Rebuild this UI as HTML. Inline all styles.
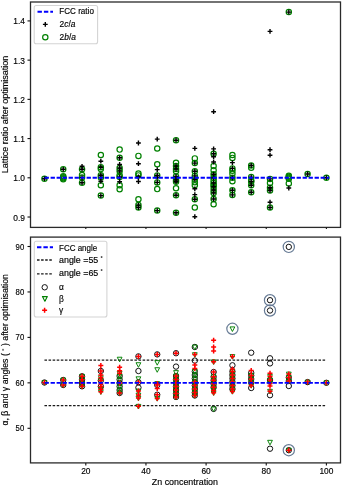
<!DOCTYPE html>
<html><head><meta charset="utf-8"><style>
html,body{margin:0;padding:0;background:#fff;width:342px;height:486px;overflow:hidden}
svg{display:block;font-family:"Liberation Sans",sans-serif;fill:#000}
#w{will-change:transform;width:342px;height:486px;background:#fff}
text{fill:#000;stroke:#000;stroke-width:0.15px}
</style></head><body><div id="w">
<svg width="342" height="486" viewBox="0 0 342 486"><circle cx="44.45" cy="178.70" r="2.65" fill="none" stroke="#008000" stroke-width="1.2"/>
<circle cx="63.24" cy="169.30" r="2.65" fill="none" stroke="#008000" stroke-width="1.2"/>
<circle cx="63.24" cy="176.30" r="2.65" fill="none" stroke="#008000" stroke-width="1.2"/>
<circle cx="63.24" cy="177.30" r="2.65" fill="none" stroke="#008000" stroke-width="1.2"/>
<circle cx="63.24" cy="178.30" r="2.65" fill="none" stroke="#008000" stroke-width="1.2"/>
<circle cx="63.24" cy="179.30" r="2.65" fill="none" stroke="#008000" stroke-width="1.2"/>
<circle cx="82.04" cy="169.20" r="2.65" fill="none" stroke="#008000" stroke-width="1.2"/>
<circle cx="82.04" cy="175.00" r="2.65" fill="none" stroke="#008000" stroke-width="1.2"/>
<circle cx="82.04" cy="177.60" r="2.65" fill="none" stroke="#008000" stroke-width="1.2"/>
<circle cx="82.04" cy="182.70" r="2.65" fill="none" stroke="#008000" stroke-width="1.2"/>
<circle cx="100.84" cy="155.00" r="2.65" fill="none" stroke="#008000" stroke-width="1.2"/>
<circle cx="100.84" cy="167.20" r="2.65" fill="none" stroke="#008000" stroke-width="1.2"/>
<circle cx="100.84" cy="169.10" r="2.65" fill="none" stroke="#008000" stroke-width="1.2"/>
<circle cx="100.84" cy="175.20" r="2.65" fill="none" stroke="#008000" stroke-width="1.2"/>
<circle cx="100.84" cy="177.50" r="2.65" fill="none" stroke="#008000" stroke-width="1.2"/>
<circle cx="100.84" cy="185.30" r="2.65" fill="none" stroke="#008000" stroke-width="1.2"/>
<circle cx="100.84" cy="195.60" r="2.65" fill="none" stroke="#008000" stroke-width="1.2"/>
<circle cx="119.63" cy="149.60" r="2.65" fill="none" stroke="#008000" stroke-width="1.2"/>
<circle cx="119.63" cy="157.80" r="2.65" fill="none" stroke="#008000" stroke-width="1.2"/>
<circle cx="119.63" cy="168.00" r="2.65" fill="none" stroke="#008000" stroke-width="1.2"/>
<circle cx="119.63" cy="171.10" r="2.65" fill="none" stroke="#008000" stroke-width="1.2"/>
<circle cx="119.63" cy="175.20" r="2.65" fill="none" stroke="#008000" stroke-width="1.2"/>
<circle cx="119.63" cy="177.00" r="2.65" fill="none" stroke="#008000" stroke-width="1.2"/>
<circle cx="119.63" cy="185.20" r="2.65" fill="none" stroke="#008000" stroke-width="1.2"/>
<circle cx="119.63" cy="189.30" r="2.65" fill="none" stroke="#008000" stroke-width="1.2"/>
<circle cx="138.43" cy="155.90" r="2.65" fill="none" stroke="#008000" stroke-width="1.2"/>
<circle cx="138.43" cy="173.50" r="2.65" fill="none" stroke="#008000" stroke-width="1.2"/>
<circle cx="138.43" cy="175.40" r="2.65" fill="none" stroke="#008000" stroke-width="1.2"/>
<circle cx="138.43" cy="199.30" r="2.65" fill="none" stroke="#008000" stroke-width="1.2"/>
<circle cx="138.43" cy="205.10" r="2.65" fill="none" stroke="#008000" stroke-width="1.2"/>
<circle cx="138.43" cy="207.50" r="2.65" fill="none" stroke="#008000" stroke-width="1.2"/>
<circle cx="157.23" cy="148.50" r="2.65" fill="none" stroke="#008000" stroke-width="1.2"/>
<circle cx="157.23" cy="164.30" r="2.65" fill="none" stroke="#008000" stroke-width="1.2"/>
<circle cx="157.23" cy="175.40" r="2.65" fill="none" stroke="#008000" stroke-width="1.2"/>
<circle cx="157.23" cy="182.40" r="2.65" fill="none" stroke="#008000" stroke-width="1.2"/>
<circle cx="157.23" cy="189.10" r="2.65" fill="none" stroke="#008000" stroke-width="1.2"/>
<circle cx="157.23" cy="210.60" r="2.65" fill="none" stroke="#008000" stroke-width="1.2"/>
<circle cx="176.03" cy="140.20" r="2.65" fill="none" stroke="#008000" stroke-width="1.2"/>
<circle cx="176.03" cy="162.70" r="2.65" fill="none" stroke="#008000" stroke-width="1.2"/>
<circle cx="176.03" cy="166.00" r="2.65" fill="none" stroke="#008000" stroke-width="1.2"/>
<circle cx="176.03" cy="169.00" r="2.65" fill="none" stroke="#008000" stroke-width="1.2"/>
<circle cx="176.03" cy="171.30" r="2.65" fill="none" stroke="#008000" stroke-width="1.2"/>
<circle cx="176.03" cy="176.40" r="2.65" fill="none" stroke="#008000" stroke-width="1.2"/>
<circle cx="176.03" cy="180.00" r="2.65" fill="none" stroke="#008000" stroke-width="1.2"/>
<circle cx="176.03" cy="181.70" r="2.65" fill="none" stroke="#008000" stroke-width="1.2"/>
<circle cx="176.03" cy="188.20" r="2.65" fill="none" stroke="#008000" stroke-width="1.2"/>
<circle cx="176.03" cy="195.20" r="2.65" fill="none" stroke="#008000" stroke-width="1.2"/>
<circle cx="176.03" cy="212.80" r="2.65" fill="none" stroke="#008000" stroke-width="1.2"/>
<circle cx="194.82" cy="158.40" r="2.65" fill="none" stroke="#008000" stroke-width="1.2"/>
<circle cx="194.82" cy="163.10" r="2.65" fill="none" stroke="#008000" stroke-width="1.2"/>
<circle cx="194.82" cy="171.30" r="2.65" fill="none" stroke="#008000" stroke-width="1.2"/>
<circle cx="194.82" cy="175.90" r="2.65" fill="none" stroke="#008000" stroke-width="1.2"/>
<circle cx="194.82" cy="179.40" r="2.65" fill="none" stroke="#008000" stroke-width="1.2"/>
<circle cx="194.82" cy="182.30" r="2.65" fill="none" stroke="#008000" stroke-width="1.2"/>
<circle cx="194.82" cy="185.20" r="2.65" fill="none" stroke="#008000" stroke-width="1.2"/>
<circle cx="194.82" cy="199.30" r="2.65" fill="none" stroke="#008000" stroke-width="1.2"/>
<circle cx="194.82" cy="207.50" r="2.65" fill="none" stroke="#008000" stroke-width="1.2"/>
<circle cx="213.62" cy="153.80" r="2.65" fill="none" stroke="#008000" stroke-width="1.2"/>
<circle cx="213.62" cy="166.10" r="2.65" fill="none" stroke="#008000" stroke-width="1.2"/>
<circle cx="213.62" cy="170.20" r="2.65" fill="none" stroke="#008000" stroke-width="1.2"/>
<circle cx="213.62" cy="174.30" r="2.65" fill="none" stroke="#008000" stroke-width="1.2"/>
<circle cx="213.62" cy="177.80" r="2.65" fill="none" stroke="#008000" stroke-width="1.2"/>
<circle cx="213.62" cy="180.50" r="2.65" fill="none" stroke="#008000" stroke-width="1.2"/>
<circle cx="213.62" cy="183.00" r="2.65" fill="none" stroke="#008000" stroke-width="1.2"/>
<circle cx="213.62" cy="185.00" r="2.65" fill="none" stroke="#008000" stroke-width="1.2"/>
<circle cx="213.62" cy="186.80" r="2.65" fill="none" stroke="#008000" stroke-width="1.2"/>
<circle cx="213.62" cy="190.00" r="2.65" fill="none" stroke="#008000" stroke-width="1.2"/>
<circle cx="213.62" cy="193.00" r="2.65" fill="none" stroke="#008000" stroke-width="1.2"/>
<circle cx="213.62" cy="199.00" r="2.65" fill="none" stroke="#008000" stroke-width="1.2"/>
<circle cx="213.62" cy="204.30" r="2.65" fill="none" stroke="#008000" stroke-width="1.2"/>
<circle cx="232.42" cy="155.00" r="2.65" fill="none" stroke="#008000" stroke-width="1.2"/>
<circle cx="232.42" cy="157.90" r="2.65" fill="none" stroke="#008000" stroke-width="1.2"/>
<circle cx="232.42" cy="168.40" r="2.65" fill="none" stroke="#008000" stroke-width="1.2"/>
<circle cx="232.42" cy="170.80" r="2.65" fill="none" stroke="#008000" stroke-width="1.2"/>
<circle cx="232.42" cy="173.70" r="2.65" fill="none" stroke="#008000" stroke-width="1.2"/>
<circle cx="232.42" cy="177.80" r="2.65" fill="none" stroke="#008000" stroke-width="1.2"/>
<circle cx="232.42" cy="181.30" r="2.65" fill="none" stroke="#008000" stroke-width="1.2"/>
<circle cx="232.42" cy="190.30" r="2.65" fill="none" stroke="#008000" stroke-width="1.2"/>
<circle cx="232.42" cy="194.90" r="2.65" fill="none" stroke="#008000" stroke-width="1.2"/>
<circle cx="251.21" cy="165.50" r="2.65" fill="none" stroke="#008000" stroke-width="1.2"/>
<circle cx="251.21" cy="167.80" r="2.65" fill="none" stroke="#008000" stroke-width="1.2"/>
<circle cx="251.21" cy="177.10" r="2.65" fill="none" stroke="#008000" stroke-width="1.2"/>
<circle cx="251.21" cy="180.70" r="2.65" fill="none" stroke="#008000" stroke-width="1.2"/>
<circle cx="251.21" cy="181.50" r="2.65" fill="none" stroke="#008000" stroke-width="1.2"/>
<circle cx="251.21" cy="185.30" r="2.65" fill="none" stroke="#008000" stroke-width="1.2"/>
<circle cx="251.21" cy="192.30" r="2.65" fill="none" stroke="#008000" stroke-width="1.2"/>
<circle cx="270.01" cy="178.90" r="2.65" fill="none" stroke="#008000" stroke-width="1.2"/>
<circle cx="270.01" cy="182.90" r="2.65" fill="none" stroke="#008000" stroke-width="1.2"/>
<circle cx="270.01" cy="187.70" r="2.65" fill="none" stroke="#008000" stroke-width="1.2"/>
<circle cx="270.01" cy="190.50" r="2.65" fill="none" stroke="#008000" stroke-width="1.2"/>
<circle cx="270.01" cy="207.50" r="2.65" fill="none" stroke="#008000" stroke-width="1.2"/>
<circle cx="288.81" cy="12.10" r="2.65" fill="none" stroke="#008000" stroke-width="1.2"/>
<circle cx="288.81" cy="175.80" r="2.65" fill="none" stroke="#008000" stroke-width="1.2"/>
<circle cx="288.81" cy="176.80" r="2.65" fill="none" stroke="#008000" stroke-width="1.2"/>
<circle cx="288.81" cy="177.80" r="2.65" fill="none" stroke="#008000" stroke-width="1.2"/>
<circle cx="288.81" cy="178.80" r="2.65" fill="none" stroke="#008000" stroke-width="1.2"/>
<circle cx="288.81" cy="183.40" r="2.65" fill="none" stroke="#008000" stroke-width="1.2"/>
<circle cx="307.60" cy="174.00" r="2.65" fill="none" stroke="#008000" stroke-width="1.2"/>
<circle cx="326.40" cy="177.70" r="2.65" fill="none" stroke="#008000" stroke-width="1.2"/>
<path d="M42.05 178.70H46.85M44.45 176.30V181.10" stroke="#000000" stroke-width="1.4" fill="none"/>
<path d="M60.84 169.30H65.64M63.24 166.90V171.70" stroke="#000000" stroke-width="1.4" fill="none"/>
<path d="M79.64 166.30H84.44M82.04 163.90V168.70" stroke="#000000" stroke-width="1.4" fill="none"/>
<path d="M79.64 169.20H84.44M82.04 166.80V171.60" stroke="#000000" stroke-width="1.4" fill="none"/>
<path d="M79.64 177.60H84.44M82.04 175.20V180.00" stroke="#000000" stroke-width="1.4" fill="none"/>
<path d="M79.64 182.70H84.44M82.04 180.30V185.10" stroke="#000000" stroke-width="1.4" fill="none"/>
<path d="M98.44 161.20H103.24M100.84 158.80V163.60" stroke="#000000" stroke-width="1.4" fill="none"/>
<path d="M98.44 167.20H103.24M100.84 164.80V169.60" stroke="#000000" stroke-width="1.4" fill="none"/>
<path d="M98.44 175.20H103.24M100.84 172.80V177.60" stroke="#000000" stroke-width="1.4" fill="none"/>
<path d="M98.44 177.50H103.24M100.84 175.10V179.90" stroke="#000000" stroke-width="1.4" fill="none"/>
<path d="M98.44 181.30H103.24M100.84 178.90V183.70" stroke="#000000" stroke-width="1.4" fill="none"/>
<path d="M98.44 195.60H103.24M100.84 193.20V198.00" stroke="#000000" stroke-width="1.4" fill="none"/>
<path d="M117.23 157.80H122.03M119.63 155.40V160.20" stroke="#000000" stroke-width="1.4" fill="none"/>
<path d="M117.23 164.50H122.03M119.63 162.10V166.90" stroke="#000000" stroke-width="1.4" fill="none"/>
<path d="M117.23 168.00H122.03M119.63 165.60V170.40" stroke="#000000" stroke-width="1.4" fill="none"/>
<path d="M117.23 171.10H122.03M119.63 168.70V173.50" stroke="#000000" stroke-width="1.4" fill="none"/>
<path d="M117.23 177.00H122.03M119.63 174.60V179.40" stroke="#000000" stroke-width="1.4" fill="none"/>
<path d="M117.23 181.70H122.03M119.63 179.30V184.10" stroke="#000000" stroke-width="1.4" fill="none"/>
<path d="M136.03 143.00H140.83M138.43 140.60V145.40" stroke="#000000" stroke-width="1.4" fill="none"/>
<path d="M136.03 163.70H140.83M138.43 161.30V166.10" stroke="#000000" stroke-width="1.4" fill="none"/>
<path d="M136.03 176.80H140.83M138.43 174.40V179.20" stroke="#000000" stroke-width="1.4" fill="none"/>
<path d="M136.03 181.50H140.83M138.43 179.10V183.90" stroke="#000000" stroke-width="1.4" fill="none"/>
<path d="M136.03 205.10H140.83M138.43 202.70V207.50" stroke="#000000" stroke-width="1.4" fill="none"/>
<path d="M136.03 207.50H140.83M138.43 205.10V209.90" stroke="#000000" stroke-width="1.4" fill="none"/>
<path d="M154.83 139.10H159.63M157.23 136.70V141.50" stroke="#000000" stroke-width="1.4" fill="none"/>
<path d="M154.83 169.60H159.63M157.23 167.20V172.00" stroke="#000000" stroke-width="1.4" fill="none"/>
<path d="M154.83 175.40H159.63M157.23 173.00V177.80" stroke="#000000" stroke-width="1.4" fill="none"/>
<path d="M154.83 177.20H159.63M157.23 174.80V179.60" stroke="#000000" stroke-width="1.4" fill="none"/>
<path d="M154.83 182.40H159.63M157.23 180.00V184.80" stroke="#000000" stroke-width="1.4" fill="none"/>
<path d="M154.83 210.60H159.63M157.23 208.20V213.00" stroke="#000000" stroke-width="1.4" fill="none"/>
<path d="M173.62 140.20H178.43M176.03 137.80V142.60" stroke="#000000" stroke-width="1.4" fill="none"/>
<path d="M173.62 166.00H178.43M176.03 163.60V168.40" stroke="#000000" stroke-width="1.4" fill="none"/>
<path d="M173.62 169.00H178.43M176.03 166.60V171.40" stroke="#000000" stroke-width="1.4" fill="none"/>
<path d="M173.62 176.40H178.43M176.03 174.00V178.80" stroke="#000000" stroke-width="1.4" fill="none"/>
<path d="M173.62 180.00H178.43M176.03 177.60V182.40" stroke="#000000" stroke-width="1.4" fill="none"/>
<path d="M173.62 181.70H178.43M176.03 179.30V184.10" stroke="#000000" stroke-width="1.4" fill="none"/>
<path d="M173.62 195.20H178.43M176.03 192.80V197.60" stroke="#000000" stroke-width="1.4" fill="none"/>
<path d="M173.62 212.80H178.43M176.03 210.40V215.20" stroke="#000000" stroke-width="1.4" fill="none"/>
<path d="M192.42 148.40H197.22M194.82 146.00V150.80" stroke="#000000" stroke-width="1.4" fill="none"/>
<path d="M192.42 163.10H197.22M194.82 160.70V165.50" stroke="#000000" stroke-width="1.4" fill="none"/>
<path d="M192.42 171.30H197.22M194.82 168.90V173.70" stroke="#000000" stroke-width="1.4" fill="none"/>
<path d="M192.42 175.90H197.22M194.82 173.50V178.30" stroke="#000000" stroke-width="1.4" fill="none"/>
<path d="M192.42 179.40H197.22M194.82 177.00V181.80" stroke="#000000" stroke-width="1.4" fill="none"/>
<path d="M192.42 188.80H197.22M194.82 186.40V191.20" stroke="#000000" stroke-width="1.4" fill="none"/>
<path d="M192.42 194.60H197.22M194.82 192.20V197.00" stroke="#000000" stroke-width="1.4" fill="none"/>
<path d="M192.42 199.30H197.22M194.82 196.90V201.70" stroke="#000000" stroke-width="1.4" fill="none"/>
<path d="M192.42 216.70H197.22M194.82 214.30V219.10" stroke="#000000" stroke-width="1.4" fill="none"/>
<path d="M211.22 111.70H216.02M213.62 109.30V114.10" stroke="#000000" stroke-width="1.4" fill="none"/>
<path d="M211.22 148.90H216.02M213.62 146.50V151.30" stroke="#000000" stroke-width="1.4" fill="none"/>
<path d="M211.22 153.80H216.02M213.62 151.40V156.20" stroke="#000000" stroke-width="1.4" fill="none"/>
<path d="M211.22 156.70H216.02M213.62 154.30V159.10" stroke="#000000" stroke-width="1.4" fill="none"/>
<path d="M211.22 162.00H216.02M213.62 159.60V164.40" stroke="#000000" stroke-width="1.4" fill="none"/>
<path d="M211.22 174.30H216.02M213.62 171.90V176.70" stroke="#000000" stroke-width="1.4" fill="none"/>
<path d="M211.22 177.80H216.02M213.62 175.40V180.20" stroke="#000000" stroke-width="1.4" fill="none"/>
<path d="M211.22 183.00H216.02M213.62 180.60V185.40" stroke="#000000" stroke-width="1.4" fill="none"/>
<path d="M211.22 186.80H216.02M213.62 184.40V189.20" stroke="#000000" stroke-width="1.4" fill="none"/>
<path d="M211.22 190.00H216.02M213.62 187.60V192.40" stroke="#000000" stroke-width="1.4" fill="none"/>
<path d="M211.22 193.00H216.02M213.62 190.60V195.40" stroke="#000000" stroke-width="1.4" fill="none"/>
<path d="M211.22 199.00H216.02M213.62 196.60V201.40" stroke="#000000" stroke-width="1.4" fill="none"/>
<path d="M230.02 162.60H234.82M232.42 160.20V165.00" stroke="#000000" stroke-width="1.4" fill="none"/>
<path d="M230.02 168.40H234.82M232.42 166.00V170.80" stroke="#000000" stroke-width="1.4" fill="none"/>
<path d="M230.02 177.80H234.82M232.42 175.40V180.20" stroke="#000000" stroke-width="1.4" fill="none"/>
<path d="M230.02 190.30H234.82M232.42 187.90V192.70" stroke="#000000" stroke-width="1.4" fill="none"/>
<path d="M230.02 194.90H234.82M232.42 192.50V197.30" stroke="#000000" stroke-width="1.4" fill="none"/>
<path d="M248.81 165.50H253.61M251.21 163.10V167.90" stroke="#000000" stroke-width="1.4" fill="none"/>
<path d="M248.81 177.10H253.61M251.21 174.70V179.50" stroke="#000000" stroke-width="1.4" fill="none"/>
<path d="M248.81 181.50H253.61M251.21 179.10V183.90" stroke="#000000" stroke-width="1.4" fill="none"/>
<path d="M248.81 185.30H253.61M251.21 182.90V187.70" stroke="#000000" stroke-width="1.4" fill="none"/>
<path d="M248.81 192.30H253.61M251.21 189.90V194.70" stroke="#000000" stroke-width="1.4" fill="none"/>
<path d="M267.61 31.40H272.41M270.01 29.00V33.80" stroke="#000000" stroke-width="1.4" fill="none"/>
<path d="M267.61 149.70H272.41M270.01 147.30V152.10" stroke="#000000" stroke-width="1.4" fill="none"/>
<path d="M267.61 155.20H272.41M270.01 152.80V157.60" stroke="#000000" stroke-width="1.4" fill="none"/>
<path d="M267.61 178.90H272.41M270.01 176.50V181.30" stroke="#000000" stroke-width="1.4" fill="none"/>
<path d="M267.61 187.70H272.41M270.01 185.30V190.10" stroke="#000000" stroke-width="1.4" fill="none"/>
<path d="M267.61 190.50H272.41M270.01 188.10V192.90" stroke="#000000" stroke-width="1.4" fill="none"/>
<path d="M267.61 202.20H272.41M270.01 199.80V204.60" stroke="#000000" stroke-width="1.4" fill="none"/>
<path d="M267.61 207.50H272.41M270.01 205.10V209.90" stroke="#000000" stroke-width="1.4" fill="none"/>
<path d="M286.41 12.10H291.21M288.81 9.70V14.50" stroke="#000000" stroke-width="1.4" fill="none"/>
<path d="M286.41 188.00H291.21M288.81 185.60V190.40" stroke="#000000" stroke-width="1.4" fill="none"/>
<path d="M305.20 174.00H310.00M307.60 171.60V176.40" stroke="#000000" stroke-width="1.4" fill="none"/>
<path d="M324.00 177.70H328.80M326.40 175.30V180.10" stroke="#000000" stroke-width="1.4" fill="none"/>
<line x1="42.8" y1="177.80" x2="329.2" y2="177.80" stroke="#0000ff" stroke-width="1.9" stroke-dasharray="4.3 1.7" stroke-dashoffset="4.2"/>
<line x1="44.45" y1="405.58" x2="326.40" y2="405.58" stroke="#1a1a1a" stroke-width="1.15" stroke-dasharray="2.55 1.54"/>
<line x1="44.45" y1="360.12" x2="326.40" y2="360.12" stroke="#1a1a1a" stroke-width="1.15" stroke-dasharray="2.55 1.54"/>
<circle cx="44.45" cy="382.50" r="2.7" fill="none" stroke="#111" stroke-width="1.0"/>
<circle cx="63.24" cy="380.00" r="2.7" fill="none" stroke="#111" stroke-width="1.0"/>
<circle cx="63.24" cy="385.00" r="2.7" fill="none" stroke="#111" stroke-width="1.0"/>
<circle cx="82.04" cy="376.30" r="2.7" fill="none" stroke="#111" stroke-width="1.0"/>
<circle cx="82.04" cy="379.80" r="2.7" fill="none" stroke="#111" stroke-width="1.0"/>
<circle cx="82.04" cy="383.00" r="2.7" fill="none" stroke="#111" stroke-width="1.0"/>
<circle cx="82.04" cy="386.30" r="2.7" fill="none" stroke="#111" stroke-width="1.0"/>
<circle cx="100.84" cy="371.00" r="2.7" fill="none" stroke="#111" stroke-width="1.0"/>
<circle cx="100.84" cy="380.50" r="2.7" fill="none" stroke="#111" stroke-width="1.0"/>
<circle cx="100.84" cy="386.50" r="2.7" fill="none" stroke="#111" stroke-width="1.0"/>
<circle cx="119.63" cy="376.00" r="2.7" fill="none" stroke="#111" stroke-width="1.0"/>
<circle cx="119.63" cy="379.50" r="2.7" fill="none" stroke="#111" stroke-width="1.0"/>
<circle cx="119.63" cy="383.00" r="2.7" fill="none" stroke="#111" stroke-width="1.0"/>
<circle cx="119.63" cy="386.50" r="2.7" fill="none" stroke="#111" stroke-width="1.0"/>
<circle cx="119.63" cy="390.00" r="2.7" fill="none" stroke="#111" stroke-width="1.0"/>
<circle cx="119.63" cy="393.00" r="2.7" fill="none" stroke="#111" stroke-width="1.0"/>
<circle cx="138.43" cy="356.40" r="2.7" fill="none" stroke="#111" stroke-width="1.0"/>
<circle cx="138.43" cy="371.00" r="2.7" fill="none" stroke="#111" stroke-width="1.0"/>
<circle cx="138.43" cy="382.20" r="2.7" fill="none" stroke="#111" stroke-width="1.0"/>
<circle cx="138.43" cy="387.60" r="2.7" fill="none" stroke="#111" stroke-width="1.0"/>
<circle cx="157.23" cy="354.40" r="2.7" fill="none" stroke="#111" stroke-width="1.0"/>
<circle cx="157.23" cy="385.00" r="2.7" fill="none" stroke="#111" stroke-width="1.0"/>
<circle cx="157.23" cy="394.70" r="2.7" fill="none" stroke="#111" stroke-width="1.0"/>
<circle cx="176.03" cy="353.20" r="2.7" fill="none" stroke="#111" stroke-width="1.0"/>
<circle cx="176.03" cy="366.60" r="2.7" fill="none" stroke="#111" stroke-width="1.0"/>
<circle cx="176.03" cy="376.00" r="2.7" fill="none" stroke="#111" stroke-width="1.0"/>
<circle cx="176.03" cy="379.50" r="2.7" fill="none" stroke="#111" stroke-width="1.0"/>
<circle cx="176.03" cy="383.00" r="2.7" fill="none" stroke="#111" stroke-width="1.0"/>
<circle cx="176.03" cy="386.50" r="2.7" fill="none" stroke="#111" stroke-width="1.0"/>
<circle cx="176.03" cy="390.00" r="2.7" fill="none" stroke="#111" stroke-width="1.0"/>
<circle cx="176.03" cy="393.50" r="2.7" fill="none" stroke="#111" stroke-width="1.0"/>
<circle cx="176.03" cy="397.00" r="2.7" fill="none" stroke="#111" stroke-width="1.0"/>
<circle cx="194.82" cy="347.00" r="2.7" fill="none" stroke="#111" stroke-width="1.0"/>
<circle cx="194.82" cy="360.60" r="2.7" fill="none" stroke="#111" stroke-width="1.0"/>
<circle cx="194.82" cy="371.50" r="2.7" fill="none" stroke="#111" stroke-width="1.0"/>
<circle cx="194.82" cy="375.00" r="2.7" fill="none" stroke="#111" stroke-width="1.0"/>
<circle cx="194.82" cy="378.50" r="2.7" fill="none" stroke="#111" stroke-width="1.0"/>
<circle cx="194.82" cy="382.00" r="2.7" fill="none" stroke="#111" stroke-width="1.0"/>
<circle cx="194.82" cy="385.50" r="2.7" fill="none" stroke="#111" stroke-width="1.0"/>
<circle cx="194.82" cy="389.00" r="2.7" fill="none" stroke="#111" stroke-width="1.0"/>
<circle cx="194.82" cy="392.50" r="2.7" fill="none" stroke="#111" stroke-width="1.0"/>
<circle cx="194.82" cy="395.50" r="2.7" fill="none" stroke="#111" stroke-width="1.0"/>
<circle cx="213.62" cy="372.00" r="2.7" fill="none" stroke="#111" stroke-width="1.0"/>
<circle cx="213.62" cy="376.80" r="2.7" fill="none" stroke="#111" stroke-width="1.0"/>
<circle cx="213.62" cy="380.30" r="2.7" fill="none" stroke="#111" stroke-width="1.0"/>
<circle cx="213.62" cy="383.80" r="2.7" fill="none" stroke="#111" stroke-width="1.0"/>
<circle cx="213.62" cy="387.30" r="2.7" fill="none" stroke="#111" stroke-width="1.0"/>
<circle cx="213.62" cy="408.90" r="2.7" fill="none" stroke="#111" stroke-width="1.0"/>
<circle cx="232.42" cy="365.30" r="2.7" fill="none" stroke="#111" stroke-width="1.0"/>
<circle cx="232.42" cy="371.50" r="2.7" fill="none" stroke="#111" stroke-width="1.0"/>
<circle cx="232.42" cy="375.00" r="2.7" fill="none" stroke="#111" stroke-width="1.0"/>
<circle cx="232.42" cy="378.50" r="2.7" fill="none" stroke="#111" stroke-width="1.0"/>
<circle cx="232.42" cy="382.00" r="2.7" fill="none" stroke="#111" stroke-width="1.0"/>
<circle cx="232.42" cy="385.50" r="2.7" fill="none" stroke="#111" stroke-width="1.0"/>
<circle cx="232.42" cy="389.00" r="2.7" fill="none" stroke="#111" stroke-width="1.0"/>
<circle cx="251.21" cy="352.70" r="2.7" fill="none" stroke="#111" stroke-width="1.0"/>
<circle cx="251.21" cy="372.90" r="2.7" fill="none" stroke="#111" stroke-width="1.0"/>
<circle cx="251.21" cy="375.50" r="2.7" fill="none" stroke="#111" stroke-width="1.0"/>
<circle cx="251.21" cy="379.00" r="2.7" fill="none" stroke="#111" stroke-width="1.0"/>
<circle cx="251.21" cy="382.50" r="2.7" fill="none" stroke="#111" stroke-width="1.0"/>
<circle cx="251.21" cy="388.00" r="2.7" fill="none" stroke="#111" stroke-width="1.0"/>
<circle cx="270.01" cy="300.20" r="2.7" fill="none" stroke="#111" stroke-width="1.0"/>
<circle cx="270.01" cy="310.50" r="2.7" fill="none" stroke="#111" stroke-width="1.0"/>
<circle cx="270.01" cy="358.30" r="2.7" fill="none" stroke="#111" stroke-width="1.0"/>
<circle cx="270.01" cy="363.40" r="2.7" fill="none" stroke="#111" stroke-width="1.0"/>
<circle cx="270.01" cy="380.00" r="2.7" fill="none" stroke="#111" stroke-width="1.0"/>
<circle cx="270.01" cy="395.20" r="2.7" fill="none" stroke="#111" stroke-width="1.0"/>
<circle cx="270.01" cy="448.70" r="2.7" fill="none" stroke="#111" stroke-width="1.0"/>
<circle cx="288.81" cy="246.90" r="2.7" fill="none" stroke="#111" stroke-width="1.0"/>
<circle cx="288.81" cy="377.50" r="2.7" fill="none" stroke="#111" stroke-width="1.0"/>
<circle cx="288.81" cy="381.00" r="2.7" fill="none" stroke="#111" stroke-width="1.0"/>
<circle cx="288.81" cy="386.00" r="2.7" fill="none" stroke="#111" stroke-width="1.0"/>
<circle cx="288.81" cy="450.20" r="2.7" fill="none" stroke="#111" stroke-width="1.0"/>
<circle cx="307.60" cy="382.10" r="2.7" fill="none" stroke="#111" stroke-width="1.0"/>
<circle cx="326.40" cy="382.80" r="2.7" fill="none" stroke="#111" stroke-width="1.0"/>
<path d="M42.05 380.62L46.85 380.62L44.45 385.18Z" stroke="#008000" stroke-width="0.95" fill="none" stroke-linejoin="round"/>
<path d="M60.84 378.12L65.64 378.12L63.24 382.68Z" stroke="#008000" stroke-width="0.95" fill="none" stroke-linejoin="round"/>
<path d="M60.84 383.12L65.64 383.12L63.24 387.68Z" stroke="#008000" stroke-width="0.95" fill="none" stroke-linejoin="round"/>
<path d="M79.64 374.42L84.44 374.42L82.04 378.98Z" stroke="#008000" stroke-width="0.95" fill="none" stroke-linejoin="round"/>
<path d="M79.64 377.92L84.44 377.92L82.04 382.48Z" stroke="#008000" stroke-width="0.95" fill="none" stroke-linejoin="round"/>
<path d="M79.64 381.12L84.44 381.12L82.04 385.68Z" stroke="#008000" stroke-width="0.95" fill="none" stroke-linejoin="round"/>
<path d="M79.64 384.42L84.44 384.42L82.04 388.98Z" stroke="#008000" stroke-width="0.95" fill="none" stroke-linejoin="round"/>
<path d="M98.44 375.82L103.24 375.82L100.84 380.38Z" stroke="#008000" stroke-width="0.95" fill="none" stroke-linejoin="round"/>
<path d="M98.44 378.62L103.24 378.62L100.84 383.18Z" stroke="#008000" stroke-width="0.95" fill="none" stroke-linejoin="round"/>
<path d="M98.44 387.42L103.24 387.42L100.84 391.98Z" stroke="#008000" stroke-width="0.95" fill="none" stroke-linejoin="round"/>
<path d="M98.44 389.92L103.24 389.92L100.84 394.48Z" stroke="#008000" stroke-width="0.95" fill="none" stroke-linejoin="round"/>
<path d="M117.23 357.22L122.03 357.22L119.63 361.78Z" stroke="#008000" stroke-width="0.95" fill="none" stroke-linejoin="round"/>
<path d="M117.23 371.42L122.03 371.42L119.63 375.98Z" stroke="#008000" stroke-width="0.95" fill="none" stroke-linejoin="round"/>
<path d="M117.23 374.12L122.03 374.12L119.63 378.68Z" stroke="#008000" stroke-width="0.95" fill="none" stroke-linejoin="round"/>
<path d="M117.23 377.62L122.03 377.62L119.63 382.18Z" stroke="#008000" stroke-width="0.95" fill="none" stroke-linejoin="round"/>
<path d="M117.23 384.62L122.03 384.62L119.63 389.18Z" stroke="#008000" stroke-width="0.95" fill="none" stroke-linejoin="round"/>
<path d="M117.23 388.12L122.03 388.12L119.63 392.68Z" stroke="#008000" stroke-width="0.95" fill="none" stroke-linejoin="round"/>
<path d="M117.23 391.12L122.03 391.12L119.63 395.68Z" stroke="#008000" stroke-width="0.95" fill="none" stroke-linejoin="round"/>
<path d="M136.03 362.72L140.83 362.72L138.43 367.28Z" stroke="#008000" stroke-width="0.95" fill="none" stroke-linejoin="round"/>
<path d="M136.03 376.82L140.83 376.82L138.43 381.38Z" stroke="#008000" stroke-width="0.95" fill="none" stroke-linejoin="round"/>
<path d="M136.03 389.12L140.83 389.12L138.43 393.68Z" stroke="#008000" stroke-width="0.95" fill="none" stroke-linejoin="round"/>
<path d="M136.03 393.12L140.83 393.12L138.43 397.68Z" stroke="#008000" stroke-width="0.95" fill="none" stroke-linejoin="round"/>
<path d="M136.03 396.12L140.83 396.12L138.43 400.68Z" stroke="#008000" stroke-width="0.95" fill="none" stroke-linejoin="round"/>
<path d="M136.03 404.42L140.83 404.42L138.43 408.98Z" stroke="#008000" stroke-width="0.95" fill="none" stroke-linejoin="round"/>
<path d="M154.83 360.62L159.63 360.62L157.23 365.18Z" stroke="#008000" stroke-width="0.95" fill="none" stroke-linejoin="round"/>
<path d="M154.83 367.72L159.63 367.72L157.23 372.28Z" stroke="#008000" stroke-width="0.95" fill="none" stroke-linejoin="round"/>
<path d="M154.83 381.62L159.63 381.62L157.23 386.18Z" stroke="#008000" stroke-width="0.95" fill="none" stroke-linejoin="round"/>
<path d="M154.83 396.62L159.63 396.62L157.23 401.18Z" stroke="#008000" stroke-width="0.95" fill="none" stroke-linejoin="round"/>
<path d="M173.62 370.62L178.43 370.62L176.03 375.18Z" stroke="#008000" stroke-width="0.95" fill="none" stroke-linejoin="round"/>
<path d="M173.62 374.12L178.43 374.12L176.03 378.68Z" stroke="#008000" stroke-width="0.95" fill="none" stroke-linejoin="round"/>
<path d="M173.62 377.62L178.43 377.62L176.03 382.18Z" stroke="#008000" stroke-width="0.95" fill="none" stroke-linejoin="round"/>
<path d="M173.62 381.12L178.43 381.12L176.03 385.68Z" stroke="#008000" stroke-width="0.95" fill="none" stroke-linejoin="round"/>
<path d="M173.62 384.62L178.43 384.62L176.03 389.18Z" stroke="#008000" stroke-width="0.95" fill="none" stroke-linejoin="round"/>
<path d="M173.62 388.12L178.43 388.12L176.03 392.68Z" stroke="#008000" stroke-width="0.95" fill="none" stroke-linejoin="round"/>
<path d="M173.62 391.62L178.43 391.62L176.03 396.18Z" stroke="#008000" stroke-width="0.95" fill="none" stroke-linejoin="round"/>
<path d="M173.62 395.12L178.43 395.12L176.03 399.68Z" stroke="#008000" stroke-width="0.95" fill="none" stroke-linejoin="round"/>
<path d="M192.42 345.12L197.22 345.12L194.82 349.68Z" stroke="#008000" stroke-width="0.95" fill="none" stroke-linejoin="round"/>
<path d="M192.42 352.72L197.22 352.72L194.82 357.28Z" stroke="#008000" stroke-width="0.95" fill="none" stroke-linejoin="round"/>
<path d="M192.42 369.62L197.22 369.62L194.82 374.18Z" stroke="#008000" stroke-width="0.95" fill="none" stroke-linejoin="round"/>
<path d="M192.42 373.12L197.22 373.12L194.82 377.68Z" stroke="#008000" stroke-width="0.95" fill="none" stroke-linejoin="round"/>
<path d="M192.42 376.62L197.22 376.62L194.82 381.18Z" stroke="#008000" stroke-width="0.95" fill="none" stroke-linejoin="round"/>
<path d="M192.42 380.12L197.22 380.12L194.82 384.68Z" stroke="#008000" stroke-width="0.95" fill="none" stroke-linejoin="round"/>
<path d="M192.42 383.62L197.22 383.62L194.82 388.18Z" stroke="#008000" stroke-width="0.95" fill="none" stroke-linejoin="round"/>
<path d="M192.42 387.12L197.22 387.12L194.82 391.68Z" stroke="#008000" stroke-width="0.95" fill="none" stroke-linejoin="round"/>
<path d="M192.42 390.62L197.22 390.62L194.82 395.18Z" stroke="#008000" stroke-width="0.95" fill="none" stroke-linejoin="round"/>
<path d="M192.42 393.62L197.22 393.62L194.82 398.18Z" stroke="#008000" stroke-width="0.95" fill="none" stroke-linejoin="round"/>
<path d="M211.22 359.92L216.02 359.92L213.62 364.48Z" stroke="#008000" stroke-width="0.95" fill="none" stroke-linejoin="round"/>
<path d="M211.22 374.92L216.02 374.92L213.62 379.48Z" stroke="#008000" stroke-width="0.95" fill="none" stroke-linejoin="round"/>
<path d="M211.22 378.42L216.02 378.42L213.62 382.98Z" stroke="#008000" stroke-width="0.95" fill="none" stroke-linejoin="round"/>
<path d="M211.22 381.92L216.02 381.92L213.62 386.48Z" stroke="#008000" stroke-width="0.95" fill="none" stroke-linejoin="round"/>
<path d="M211.22 385.42L216.02 385.42L213.62 389.98Z" stroke="#008000" stroke-width="0.95" fill="none" stroke-linejoin="round"/>
<path d="M211.22 388.62L216.02 388.62L213.62 393.18Z" stroke="#008000" stroke-width="0.95" fill="none" stroke-linejoin="round"/>
<path d="M211.22 390.92L216.02 390.92L213.62 395.48Z" stroke="#008000" stroke-width="0.95" fill="none" stroke-linejoin="round"/>
<path d="M211.22 407.02L216.02 407.02L213.62 411.58Z" stroke="#008000" stroke-width="0.95" fill="none" stroke-linejoin="round"/>
<path d="M230.02 326.92L234.82 326.92L232.42 331.48Z" stroke="#008000" stroke-width="0.95" fill="none" stroke-linejoin="round"/>
<path d="M230.02 354.62L234.82 354.62L232.42 359.18Z" stroke="#008000" stroke-width="0.95" fill="none" stroke-linejoin="round"/>
<path d="M230.02 369.62L234.82 369.62L232.42 374.18Z" stroke="#008000" stroke-width="0.95" fill="none" stroke-linejoin="round"/>
<path d="M230.02 373.12L234.82 373.12L232.42 377.68Z" stroke="#008000" stroke-width="0.95" fill="none" stroke-linejoin="round"/>
<path d="M230.02 376.62L234.82 376.62L232.42 381.18Z" stroke="#008000" stroke-width="0.95" fill="none" stroke-linejoin="round"/>
<path d="M230.02 380.12L234.82 380.12L232.42 384.68Z" stroke="#008000" stroke-width="0.95" fill="none" stroke-linejoin="round"/>
<path d="M230.02 383.62L234.82 383.62L232.42 388.18Z" stroke="#008000" stroke-width="0.95" fill="none" stroke-linejoin="round"/>
<path d="M230.02 387.12L234.82 387.12L232.42 391.68Z" stroke="#008000" stroke-width="0.95" fill="none" stroke-linejoin="round"/>
<path d="M230.02 389.62L234.82 389.62L232.42 394.18Z" stroke="#008000" stroke-width="0.95" fill="none" stroke-linejoin="round"/>
<path d="M248.81 373.62L253.61 373.62L251.21 378.18Z" stroke="#008000" stroke-width="0.95" fill="none" stroke-linejoin="round"/>
<path d="M248.81 377.12L253.61 377.12L251.21 381.68Z" stroke="#008000" stroke-width="0.95" fill="none" stroke-linejoin="round"/>
<path d="M248.81 380.62L253.61 380.62L251.21 385.18Z" stroke="#008000" stroke-width="0.95" fill="none" stroke-linejoin="round"/>
<path d="M248.81 383.62L253.61 383.62L251.21 388.18Z" stroke="#008000" stroke-width="0.95" fill="none" stroke-linejoin="round"/>
<path d="M267.61 374.62L272.41 374.62L270.01 379.18Z" stroke="#008000" stroke-width="0.95" fill="none" stroke-linejoin="round"/>
<path d="M267.61 378.12L272.41 378.12L270.01 382.68Z" stroke="#008000" stroke-width="0.95" fill="none" stroke-linejoin="round"/>
<path d="M267.61 381.62L272.41 381.62L270.01 386.18Z" stroke="#008000" stroke-width="0.95" fill="none" stroke-linejoin="round"/>
<path d="M267.61 389.32L272.41 389.32L270.01 393.88Z" stroke="#008000" stroke-width="0.95" fill="none" stroke-linejoin="round"/>
<path d="M267.61 440.32L272.41 440.32L270.01 444.88Z" stroke="#008000" stroke-width="0.95" fill="none" stroke-linejoin="round"/>
<path d="M286.41 372.12L291.21 372.12L288.81 376.68Z" stroke="#008000" stroke-width="0.95" fill="none" stroke-linejoin="round"/>
<path d="M286.41 375.62L291.21 375.62L288.81 380.18Z" stroke="#008000" stroke-width="0.95" fill="none" stroke-linejoin="round"/>
<path d="M286.41 379.12L291.21 379.12L288.81 383.68Z" stroke="#008000" stroke-width="0.95" fill="none" stroke-linejoin="round"/>
<path d="M286.41 448.32L291.21 448.32L288.81 452.88Z" stroke="#008000" stroke-width="0.95" fill="none" stroke-linejoin="round"/>
<path d="M305.20 380.22L310.00 380.22L307.60 384.78Z" stroke="#008000" stroke-width="0.95" fill="none" stroke-linejoin="round"/>
<path d="M324.00 380.92L328.80 380.92L326.40 385.48Z" stroke="#008000" stroke-width="0.95" fill="none" stroke-linejoin="round"/>
<path d="M41.95 382.50H46.95M44.45 380.00V385.00" stroke="#ff0000" stroke-width="1.5" fill="none"/>
<path d="M60.74 380.00H65.74M63.24 377.50V382.50" stroke="#ff0000" stroke-width="1.5" fill="none"/>
<path d="M60.74 385.00H65.74M63.24 382.50V387.50" stroke="#ff0000" stroke-width="1.5" fill="none"/>
<path d="M79.54 376.30H84.54M82.04 373.80V378.80" stroke="#ff0000" stroke-width="1.5" fill="none"/>
<path d="M79.54 379.80H84.54M82.04 377.30V382.30" stroke="#ff0000" stroke-width="1.5" fill="none"/>
<path d="M79.54 383.00H84.54M82.04 380.50V385.50" stroke="#ff0000" stroke-width="1.5" fill="none"/>
<path d="M79.54 386.30H84.54M82.04 383.80V388.80" stroke="#ff0000" stroke-width="1.5" fill="none"/>
<path d="M98.34 365.40H103.34M100.84 362.90V367.90" stroke="#ff0000" stroke-width="1.5" fill="none"/>
<path d="M98.34 371.00H103.34M100.84 368.50V373.50" stroke="#ff0000" stroke-width="1.5" fill="none"/>
<path d="M98.34 375.00H103.34M100.84 372.50V377.50" stroke="#ff0000" stroke-width="1.5" fill="none"/>
<path d="M98.34 377.70H103.34M100.84 375.20V380.20" stroke="#ff0000" stroke-width="1.5" fill="none"/>
<path d="M98.34 380.50H103.34M100.84 378.00V383.00" stroke="#ff0000" stroke-width="1.5" fill="none"/>
<path d="M98.34 383.90H103.34M100.84 381.40V386.40" stroke="#ff0000" stroke-width="1.5" fill="none"/>
<path d="M98.34 386.50H103.34M100.84 384.00V389.00" stroke="#ff0000" stroke-width="1.5" fill="none"/>
<path d="M98.34 389.30H103.34M100.84 386.80V391.80" stroke="#ff0000" stroke-width="1.5" fill="none"/>
<path d="M98.34 391.80H103.34M100.84 389.30V394.30" stroke="#ff0000" stroke-width="1.5" fill="none"/>
<path d="M117.13 367.20H122.13M119.63 364.70V369.70" stroke="#ff0000" stroke-width="1.5" fill="none"/>
<path d="M117.13 370.70H122.13M119.63 368.20V373.20" stroke="#ff0000" stroke-width="1.5" fill="none"/>
<path d="M117.13 373.30H122.13M119.63 370.80V375.80" stroke="#ff0000" stroke-width="1.5" fill="none"/>
<path d="M117.13 383.00H122.13M119.63 380.50V385.50" stroke="#ff0000" stroke-width="1.5" fill="none"/>
<path d="M117.13 393.00H122.13M119.63 390.50V395.50" stroke="#ff0000" stroke-width="1.5" fill="none"/>
<path d="M135.93 356.40H140.93M138.43 353.90V358.90" stroke="#ff0000" stroke-width="1.5" fill="none"/>
<path d="M135.93 382.20H140.93M138.43 379.70V384.70" stroke="#ff0000" stroke-width="1.5" fill="none"/>
<path d="M135.93 391.00H140.93M138.43 388.50V393.50" stroke="#ff0000" stroke-width="1.5" fill="none"/>
<path d="M135.93 395.00H140.93M138.43 392.50V397.50" stroke="#ff0000" stroke-width="1.5" fill="none"/>
<path d="M135.93 398.00H140.93M138.43 395.50V400.50" stroke="#ff0000" stroke-width="1.5" fill="none"/>
<path d="M135.93 406.30H140.93M138.43 403.80V408.80" stroke="#ff0000" stroke-width="1.5" fill="none"/>
<path d="M154.73 354.40H159.73M157.23 351.90V356.90" stroke="#ff0000" stroke-width="1.5" fill="none"/>
<path d="M154.73 383.50H159.73M157.23 381.00V386.00" stroke="#ff0000" stroke-width="1.5" fill="none"/>
<path d="M154.73 385.00H159.73M157.23 382.50V387.50" stroke="#ff0000" stroke-width="1.5" fill="none"/>
<path d="M154.73 388.50H159.73M157.23 386.00V391.00" stroke="#ff0000" stroke-width="1.5" fill="none"/>
<path d="M154.73 394.70H159.73M157.23 392.20V397.20" stroke="#ff0000" stroke-width="1.5" fill="none"/>
<path d="M154.73 398.50H159.73M157.23 396.00V401.00" stroke="#ff0000" stroke-width="1.5" fill="none"/>
<path d="M173.53 353.20H178.53M176.03 350.70V355.70" stroke="#ff0000" stroke-width="1.5" fill="none"/>
<path d="M173.53 376.00H178.53M176.03 373.50V378.50" stroke="#ff0000" stroke-width="1.5" fill="none"/>
<path d="M173.53 379.50H178.53M176.03 377.00V382.00" stroke="#ff0000" stroke-width="1.5" fill="none"/>
<path d="M173.53 383.00H178.53M176.03 380.50V385.50" stroke="#ff0000" stroke-width="1.5" fill="none"/>
<path d="M173.53 386.50H178.53M176.03 384.00V389.00" stroke="#ff0000" stroke-width="1.5" fill="none"/>
<path d="M173.53 390.00H178.53M176.03 387.50V392.50" stroke="#ff0000" stroke-width="1.5" fill="none"/>
<path d="M173.53 393.50H178.53M176.03 391.00V396.00" stroke="#ff0000" stroke-width="1.5" fill="none"/>
<path d="M173.53 397.00H178.53M176.03 394.50V399.50" stroke="#ff0000" stroke-width="1.5" fill="none"/>
<path d="M192.32 354.60H197.32M194.82 352.10V357.10" stroke="#ff0000" stroke-width="1.5" fill="none"/>
<path d="M192.32 365.10H197.32M194.82 362.60V367.60" stroke="#ff0000" stroke-width="1.5" fill="none"/>
<path d="M192.32 368.60H197.32M194.82 366.10V371.10" stroke="#ff0000" stroke-width="1.5" fill="none"/>
<path d="M192.32 382.00H197.32M194.82 379.50V384.50" stroke="#ff0000" stroke-width="1.5" fill="none"/>
<path d="M192.32 385.50H197.32M194.82 383.00V388.00" stroke="#ff0000" stroke-width="1.5" fill="none"/>
<path d="M192.32 389.00H197.32M194.82 386.50V391.50" stroke="#ff0000" stroke-width="1.5" fill="none"/>
<path d="M192.32 392.50H197.32M194.82 390.00V395.00" stroke="#ff0000" stroke-width="1.5" fill="none"/>
<path d="M192.32 395.50H197.32M194.82 393.00V398.00" stroke="#ff0000" stroke-width="1.5" fill="none"/>
<path d="M211.12 340.30H216.12M213.62 337.80V342.80" stroke="#ff0000" stroke-width="1.5" fill="none"/>
<path d="M211.12 347.00H216.12M213.62 344.50V349.50" stroke="#ff0000" stroke-width="1.5" fill="none"/>
<path d="M211.12 351.00H216.12M213.62 348.50V353.50" stroke="#ff0000" stroke-width="1.5" fill="none"/>
<path d="M211.12 361.80H216.12M213.62 359.30V364.30" stroke="#ff0000" stroke-width="1.5" fill="none"/>
<path d="M211.12 372.00H216.12M213.62 369.50V374.50" stroke="#ff0000" stroke-width="1.5" fill="none"/>
<path d="M211.12 376.80H216.12M213.62 374.30V379.30" stroke="#ff0000" stroke-width="1.5" fill="none"/>
<path d="M211.12 380.30H216.12M213.62 377.80V382.80" stroke="#ff0000" stroke-width="1.5" fill="none"/>
<path d="M211.12 383.80H216.12M213.62 381.30V386.30" stroke="#ff0000" stroke-width="1.5" fill="none"/>
<path d="M211.12 387.30H216.12M213.62 384.80V389.80" stroke="#ff0000" stroke-width="1.5" fill="none"/>
<path d="M211.12 390.50H216.12M213.62 388.00V393.00" stroke="#ff0000" stroke-width="1.5" fill="none"/>
<path d="M211.12 392.80H216.12M213.62 390.30V395.30" stroke="#ff0000" stroke-width="1.5" fill="none"/>
<path d="M229.92 356.50H234.92M232.42 354.00V359.00" stroke="#ff0000" stroke-width="1.5" fill="none"/>
<path d="M229.92 369.00H234.92M232.42 366.50V371.50" stroke="#ff0000" stroke-width="1.5" fill="none"/>
<path d="M229.92 371.50H234.92M232.42 369.00V374.00" stroke="#ff0000" stroke-width="1.5" fill="none"/>
<path d="M229.92 375.00H234.92M232.42 372.50V377.50" stroke="#ff0000" stroke-width="1.5" fill="none"/>
<path d="M229.92 378.50H234.92M232.42 376.00V381.00" stroke="#ff0000" stroke-width="1.5" fill="none"/>
<path d="M229.92 382.00H234.92M232.42 379.50V384.50" stroke="#ff0000" stroke-width="1.5" fill="none"/>
<path d="M229.92 385.50H234.92M232.42 383.00V388.00" stroke="#ff0000" stroke-width="1.5" fill="none"/>
<path d="M229.92 389.00H234.92M232.42 386.50V391.50" stroke="#ff0000" stroke-width="1.5" fill="none"/>
<path d="M229.92 391.50H234.92M232.42 389.00V394.00" stroke="#ff0000" stroke-width="1.5" fill="none"/>
<path d="M248.71 370.50H253.71M251.21 368.00V373.00" stroke="#ff0000" stroke-width="1.5" fill="none"/>
<path d="M248.71 375.50H253.71M251.21 373.00V378.00" stroke="#ff0000" stroke-width="1.5" fill="none"/>
<path d="M248.71 379.00H253.71M251.21 376.50V381.50" stroke="#ff0000" stroke-width="1.5" fill="none"/>
<path d="M248.71 382.50H253.71M251.21 380.00V385.00" stroke="#ff0000" stroke-width="1.5" fill="none"/>
<path d="M248.71 385.50H253.71M251.21 383.00V388.00" stroke="#ff0000" stroke-width="1.5" fill="none"/>
<path d="M267.51 373.30H272.51M270.01 370.80V375.80" stroke="#ff0000" stroke-width="1.5" fill="none"/>
<path d="M267.51 376.50H272.51M270.01 374.00V379.00" stroke="#ff0000" stroke-width="1.5" fill="none"/>
<path d="M267.51 380.00H272.51M270.01 377.50V382.50" stroke="#ff0000" stroke-width="1.5" fill="none"/>
<path d="M267.51 383.50H272.51M270.01 381.00V386.00" stroke="#ff0000" stroke-width="1.5" fill="none"/>
<path d="M267.51 386.00H272.51M270.01 383.50V388.50" stroke="#ff0000" stroke-width="1.5" fill="none"/>
<path d="M267.51 391.20H272.51M270.01 388.70V393.70" stroke="#ff0000" stroke-width="1.5" fill="none"/>
<path d="M286.31 374.00H291.31M288.81 371.50V376.50" stroke="#ff0000" stroke-width="1.5" fill="none"/>
<path d="M286.31 377.50H291.31M288.81 375.00V380.00" stroke="#ff0000" stroke-width="1.5" fill="none"/>
<path d="M286.31 381.00H291.31M288.81 378.50V383.50" stroke="#ff0000" stroke-width="1.5" fill="none"/>
<path d="M286.31 450.20H291.31M288.81 447.70V452.70" stroke="#ff0000" stroke-width="1.5" fill="none"/>
<path d="M305.10 382.10H310.10M307.60 379.60V384.60" stroke="#ff0000" stroke-width="1.5" fill="none"/>
<path d="M323.90 382.80H328.90M326.40 380.30V385.30" stroke="#ff0000" stroke-width="1.5" fill="none"/>
<circle cx="288.81" cy="246.90" r="5.6" fill="none" stroke="#667a94" stroke-width="1.2"/>
<circle cx="270.01" cy="300.20" r="5.6" fill="none" stroke="#667a94" stroke-width="1.2"/>
<circle cx="270.01" cy="310.50" r="5.6" fill="none" stroke="#667a94" stroke-width="1.2"/>
<circle cx="232.42" cy="328.80" r="5.6" fill="none" stroke="#667a94" stroke-width="1.2"/>
<circle cx="288.81" cy="450.20" r="5.6" fill="none" stroke="#667a94" stroke-width="1.2"/>
<line x1="42.8" y1="382.85" x2="329.2" y2="382.85" stroke="#0000ff" stroke-width="1.9" stroke-dasharray="4.3 1.7" stroke-dashoffset="4.2"/>
<rect x="30.5" y="2.0" width="310.0" height="225.4" fill="none" stroke="#2a2a2a" stroke-width="1.3"/>
<rect x="30.5" y="237.1" width="310.0" height="225.79999999999998" fill="none" stroke="#2a2a2a" stroke-width="1.3"/>
<line x1="27.5" y1="217.02" x2="30.5" y2="217.02" stroke="#111" stroke-width="1.1"/>
<line x1="27.5" y1="177.80" x2="30.5" y2="177.80" stroke="#111" stroke-width="1.1"/>
<line x1="27.5" y1="138.58" x2="30.5" y2="138.58" stroke="#111" stroke-width="1.1"/>
<line x1="27.5" y1="99.36" x2="30.5" y2="99.36" stroke="#111" stroke-width="1.1"/>
<line x1="27.5" y1="60.14" x2="30.5" y2="60.14" stroke="#111" stroke-width="1.1"/>
<line x1="27.5" y1="20.92" x2="30.5" y2="20.92" stroke="#111" stroke-width="1.1"/>
<line x1="27.5" y1="428.30" x2="30.5" y2="428.30" stroke="#111" stroke-width="1.1"/>
<line x1="27.5" y1="382.85" x2="30.5" y2="382.85" stroke="#111" stroke-width="1.1"/>
<line x1="27.5" y1="337.40" x2="30.5" y2="337.40" stroke="#111" stroke-width="1.1"/>
<line x1="27.5" y1="291.95" x2="30.5" y2="291.95" stroke="#111" stroke-width="1.1"/>
<line x1="27.5" y1="246.50" x2="30.5" y2="246.50" stroke="#111" stroke-width="1.1"/>
<line x1="85.80" y1="462.9" x2="85.80" y2="465.4" stroke="#111" stroke-width="1.1"/>
<line x1="85.80" y1="227.4" x2="85.80" y2="229.0" stroke="#111" stroke-width="1.1"/>
<line x1="145.95" y1="462.9" x2="145.95" y2="465.4" stroke="#111" stroke-width="1.1"/>
<line x1="145.95" y1="227.4" x2="145.95" y2="229.0" stroke="#111" stroke-width="1.1"/>
<line x1="206.10" y1="462.9" x2="206.10" y2="465.4" stroke="#111" stroke-width="1.1"/>
<line x1="206.10" y1="227.4" x2="206.10" y2="229.0" stroke="#111" stroke-width="1.1"/>
<line x1="266.25" y1="462.9" x2="266.25" y2="465.4" stroke="#111" stroke-width="1.1"/>
<line x1="266.25" y1="227.4" x2="266.25" y2="229.0" stroke="#111" stroke-width="1.1"/>
<line x1="326.40" y1="462.9" x2="326.40" y2="465.4" stroke="#111" stroke-width="1.1"/>
<line x1="326.40" y1="227.4" x2="326.40" y2="229.0" stroke="#111" stroke-width="1.1"/>
<text x="25.00" y="220.52" font-size="8.4" text-anchor="end" >0.9</text>
<text x="25.00" y="181.30" font-size="8.4" text-anchor="end" >1.0</text>
<text x="25.00" y="142.08" font-size="8.4" text-anchor="end" >1.1</text>
<text x="25.00" y="102.86" font-size="8.4" text-anchor="end" >1.2</text>
<text x="25.00" y="63.64" font-size="8.4" text-anchor="end" >1.3</text>
<text x="25.00" y="24.42" font-size="8.4" text-anchor="end" >1.4</text>
<text x="24.20" y="431.30" font-size="8.4" text-anchor="end" textLength="8.6" lengthAdjust="spacingAndGlyphs">50</text>
<text x="24.20" y="385.85" font-size="8.4" text-anchor="end" textLength="8.6" lengthAdjust="spacingAndGlyphs">60</text>
<text x="24.20" y="340.40" font-size="8.4" text-anchor="end" textLength="8.6" lengthAdjust="spacingAndGlyphs">70</text>
<text x="24.20" y="294.95" font-size="8.4" text-anchor="end" textLength="8.6" lengthAdjust="spacingAndGlyphs">80</text>
<text x="24.20" y="249.50" font-size="8.4" text-anchor="end" textLength="8.6" lengthAdjust="spacingAndGlyphs">90</text>
<text x="85.80" y="473.90" font-size="8.4" text-anchor="middle" >20</text>
<text x="145.95" y="473.90" font-size="8.4" text-anchor="middle" >40</text>
<text x="206.10" y="473.90" font-size="8.4" text-anchor="middle" >60</text>
<text x="266.25" y="473.90" font-size="8.4" text-anchor="middle" >80</text>
<text x="326.40" y="473.90" font-size="8.4" text-anchor="middle" >100</text>
<text x="151.80" y="484.50" font-size="8.4" text-anchor="start" textLength="66.2" lengthAdjust="spacingAndGlyphs">Zn concentration</text>
<text transform="translate(8.3 114.5) rotate(-90)" font-size="8.4" text-anchor="middle" textLength="117.5" lengthAdjust="spacingAndGlyphs">Lattice ratio after optimisation</text>
<text transform="translate(8.3 349.8) rotate(-90)" font-size="8.4" text-anchor="middle" textLength="151.5" lengthAdjust="spacingAndGlyphs">α, β and γ angles ( <tspan font-size="5.5" dy="-2.5">°</tspan><tspan dy="2.5"> ) after optimisation</tspan></text>
<rect x="34.2" y="5.5" width="63.4" height="38.3" rx="2" fill="#fff" fill-opacity="0.8" stroke="#d4d4d4" stroke-width="1.1"/>
<line x1="37.5" y1="11.8" x2="53" y2="11.8" stroke="#0000ff" stroke-width="1.9" stroke-dasharray="4.4 2"/>
<path d="M42.90 24.40H47.70M45.30 22.00V26.80" stroke="#000000" stroke-width="1.4" fill="none"/>
<circle cx="45.30" cy="37.30" r="2.65" fill="none" stroke="#008000" stroke-width="1.2"/>
<text x="59.30" y="14.40" font-size="8.4" text-anchor="start" textLength="34.6" lengthAdjust="spacingAndGlyphs">FCC ratio</text>
<text x="59.60" y="27.00" font-size="8.4" text-anchor="start" >2<tspan font-style="italic">c</tspan>/<tspan font-style="italic">a</tspan></text>
<text x="59.60" y="39.50" font-size="8.4" text-anchor="start" >2<tspan font-style="italic">b</tspan>/<tspan font-style="italic">a</tspan></text>
<rect x="34.3" y="241.2" width="72.6" height="75.8" rx="2" fill="#fff" fill-opacity="0.8" stroke="#d4d4d4" stroke-width="1.1"/>
<line x1="37" y1="247.2" x2="53" y2="247.2" stroke="#0000ff" stroke-width="1.9" stroke-dasharray="4.4 2"/>
<line x1="37" y1="260.0" x2="53" y2="260.0" stroke="#1a1a1a" stroke-width="1.3" stroke-dasharray="2.55 1.54"/>
<line x1="37" y1="273.8" x2="53" y2="273.8" stroke="#1a1a1a" stroke-width="1.3" stroke-dasharray="2.55 1.54"/>
<circle cx="44.70" cy="287.30" r="2.7" fill="none" stroke="#111" stroke-width="1.0"/>
<path d="M42.45 296.57L47.35 296.57L44.90 301.23Z" stroke="#008000" stroke-width="1.15" fill="none" stroke-linejoin="round"/>
<path d="M42.10 310.30H47.10M44.60 307.80V312.80" stroke="#ff0000" stroke-width="1.5" fill="none"/>
<text x="59.00" y="250.60" font-size="8.4" text-anchor="start" textLength="38.2" lengthAdjust="spacingAndGlyphs">FCC angle</text>
<text x="59.00" y="263.20" font-size="8.4" text-anchor="start" textLength="39.3" lengthAdjust="spacingAndGlyphs">angle =55</text>
<text x="59.00" y="276.40" font-size="8.4" text-anchor="start" textLength="39.3" lengthAdjust="spacingAndGlyphs">angle =65</text>
<text x="100.60" y="260.20" font-size="5.5" text-anchor="start" >°</text>
<text x="100.60" y="273.40" font-size="5.5" text-anchor="start" >°</text>
<text x="59.00" y="290.00" font-size="8.4" text-anchor="start" >α</text>
<text x="59.00" y="301.50" font-size="8.4" text-anchor="start" >β</text>
<text x="59.00" y="313.00" font-size="8.4" text-anchor="start" >γ</text></svg>
</div></body></html>
